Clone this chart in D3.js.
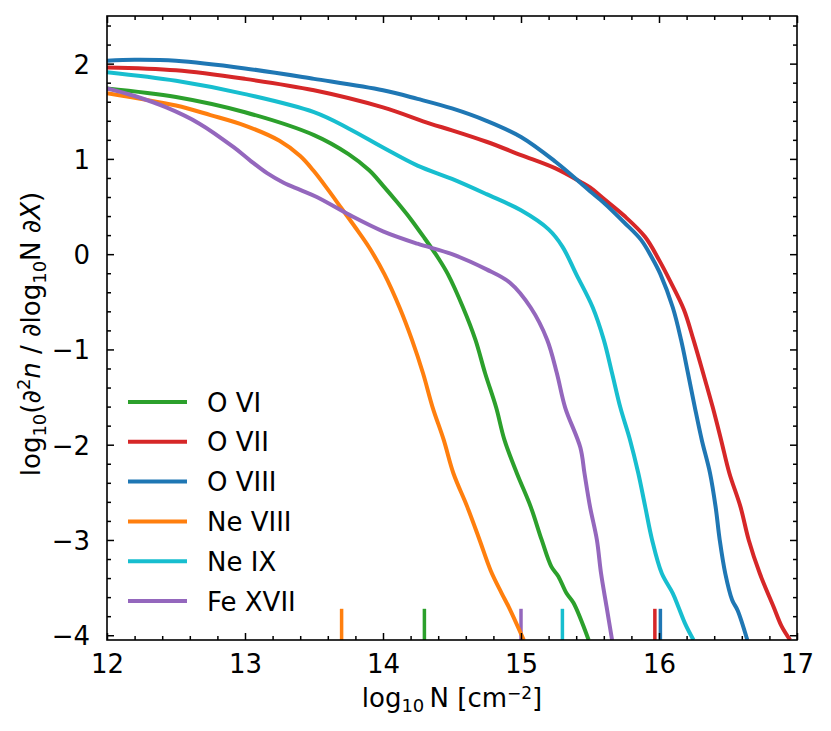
<!DOCTYPE html>
<html><head><meta charset="utf-8">
<script src="https://cdn.jsdelivr.net/npm/d3@7"></script>
<style>
html,body{margin:0;padding:0;background:#fff;}
text{font-family:"DejaVu Sans",sans-serif;fill:#000;}
</style></head>
<body><svg id="chart" width="831" height="731"></svg>
<script>
// ---- data ----
const seriesNames = ["O VI","O VII","O VIII","Ne VIII","Ne IX","Fe XVII"];
const seriesColors = ["#2ca02c","#d62728","#1f77b4","#ff7f0e","#17becf","#9467bd"];
const oVI = [[12,1.74],[12.5,1.65],[13,1.49],[13.5,1.25],[13.75,1.05],[13.9,0.88],[14.0,0.72],[14.1,0.55],[14.2,0.37],[14.3,0.17],[14.4,-0.04],[14.47,-0.21],[14.58,-0.56],[14.67,-0.90],[14.74,-1.25],[14.82,-1.61],[14.88,-1.95],[14.97,-2.30],[15.07,-2.65],[15.15,-3.00],[15.22,-3.28],[15.27,-3.38],[15.33,-3.56],[15.38,-3.66],[15.49,-4.05]];
const oVII = [[12,1.96],[12.5,1.93],[13,1.84],[13.5,1.72],[14,1.54],[14.34,1.37],[14.5,1.30],[14.75,1.18],[15,1.04],[15.25,0.90],[15.43,0.76],[15.5,0.70],[15.6,0.58],[15.75,0.40],[15.9,0.18],[16.0,-0.06],[16.08,-0.28],[16.18,-0.58],[16.25,-0.90],[16.32,-1.25],[16.39,-1.61],[16.45,-1.95],[16.51,-2.30],[16.59,-2.65],[16.65,-3.00],[16.73,-3.35],[16.83,-3.70],[16.89,-3.91],[16.95,-4.05]];
const oVIII = [[12,2.03],[12.2,2.04],[12.5,2.03],[13,1.95],[13.5,1.84],[14,1.72],[14.25,1.63],[14.5,1.53],[14.75,1.40],[15,1.23],[15.25,0.97],[15.43,0.75],[15.5,0.66],[15.6,0.54],[15.75,0.33],[15.87,0.15],[15.95,-0.04],[16.01,-0.21],[16.10,-0.56],[16.16,-0.90],[16.21,-1.25],[16.26,-1.61],[16.31,-1.95],[16.37,-2.30],[16.41,-2.65],[16.44,-3.00],[16.48,-3.35],[16.53,-3.63],[16.57,-3.74],[16.64,-4.05]];
const neVIII = [[12,1.69],[12.5,1.56],[12.75,1.46],[13,1.35],[13.25,1.19],[13.4,1.03],[13.5,0.87],[13.6,0.68],[13.7,0.48],[13.8,0.28],[13.9,0.07],[14.01,-0.21],[14.12,-0.56],[14.21,-0.90],[14.29,-1.25],[14.36,-1.61],[14.44,-1.95],[14.51,-2.30],[14.61,-2.65],[14.70,-3.00],[14.78,-3.32],[14.86,-3.56],[14.91,-3.70],[15.02,-4.05]];
const neIX = [[12,1.91],[12.5,1.82],[13,1.68],[13.5,1.49],[13.75,1.32],[14,1.12],[14.25,0.93],[14.5,0.79],[14.75,0.63],[15,0.46],[15.2,0.26],[15.3,0.08],[15.4,-0.21],[15.52,-0.56],[15.60,-0.90],[15.66,-1.25],[15.72,-1.61],[15.79,-1.95],[15.85,-2.30],[15.90,-2.65],[15.95,-3.00],[16.02,-3.35],[16.10,-3.56],[16.14,-3.70],[16.19,-3.88],[16.25,-4.05]];
const feXVII = [[12,1.74],[12.2,1.66],[12.43,1.54],[12.67,1.37],[12.92,1.12],[13.04,0.98],[13.16,0.85],[13.28,0.75],[13.4,0.675],[13.52,0.60],[13.76,0.41],[14.0,0.24],[14.25,0.11],[14.5,0.0],[14.75,-0.16],[14.92,-0.30],[15.07,-0.56],[15.19,-0.90],[15.26,-1.25],[15.32,-1.61],[15.43,-2.03],[15.46,-2.30],[15.50,-2.65],[15.55,-3.00],[15.58,-3.35],[15.62,-3.70],[15.66,-4.05]];
const markerX = [14.3,15.97,16.01,13.7,15.3,15.0];   // per series, same order as names
const xTicks = [12,13,14,15,16,17];
const yTicks = [-4,-3,-2,-1,0,1,2];
const allSeries = [oVI,oVII,oVIII,neVIII,neIX,feXVII];

// ---- layout ----
const svg = d3.select("#chart");
const L=107,R=797,T=16,B=640;
const x = d3.scaleLinear().domain([12,17]).range([L,R]);
const y = d3.scaleLinear().domain([-4.05,2.5]).range([B,T]);
const FS = 26;

svg.append("defs").append("clipPath").attr("id","clip")
  .append("rect").attr("x",L).attr("y",T).attr("width",R-L).attr("height",B-T);

const plot = svg.append("g").attr("clip-path","url(#clip)");
const line = d3.line().x(d=>x(d[0])).y(d=>y(d[1])).curve(d3.curveCatmullRom.alpha(0.5));

// markers
markerX.forEach((mx,i)=>{
  plot.append("line").attr("x1",x(mx)).attr("x2",x(mx))
    .attr("y1",y(-4.05)).attr("y2",y(-4.05+0.05*6.55))
    .attr("stroke",seriesColors[i]).attr("stroke-width",3.5);
});
allSeries.forEach((s,i)=>{
  plot.append("path").datum(s).attr("d",line).attr("fill","none")
    .attr("stroke",seriesColors[i]).attr("stroke-width",4)
    .attr("stroke-linejoin","round").attr("stroke-linecap","butt");
});

// axes with inward ticks
function mkAxis(axisFn, scale, ticks, minor, tr, showLabels){
  const g = svg.append("g").attr("transform",tr);
  const minorTicks = d3.range(minor[0],minor[1]+1e-9,0.2).filter(v=>Math.abs(v-Math.round(v))>1e-6);
  g.call(axisFn(scale).tickValues(minorTicks).tickSize(-4).tickFormat(""));
  const g2 = svg.append("g").attr("transform",tr);
  g2.call(axisFn(scale).tickValues(ticks).tickSize(-7).tickPadding(showLabels?17:0)
     .tickFormat(showLabels? (d=>d<0?"\u2212"+Math.abs(d):String(d)) : ""));
  [g,g2].forEach(gg=>{
    gg.select(".domain").remove();
    gg.selectAll(".tick line").attr("stroke","#000").attr("stroke-width",1.5);
    gg.selectAll("text").style("font-size",FS+"px").style("font-family","DejaVu Sans").attr("fill","#000");
  });
  return g2;
}
const xAx = mkAxis(d3.axisBottom, x, xTicks, [12,17], `translate(0,${B})`, true);
xAx.selectAll("text").attr("dy","0.6em");
mkAxis(d3.axisTop, x, xTicks, [12,17], `translate(0,${T})`, false);
const yl = mkAxis(d3.axisLeft, y, yTicks, [-4,2.4], `translate(${L},0)`, true);
mkAxis(d3.axisRight, y, yTicks, [-4,2.4], `translate(${R},0)`, false);
yl.selectAll("text").attr("dy","0.36em");

svg.append("rect").attr("x",L).attr("y",T).attr("width",R-L).attr("height",B-T)
  .attr("fill","none").attr("stroke","#000").attr("stroke-width",1.6);

// x label
const xl = svg.append("text").attr("x",(L+R)/2).attr("y",707).attr("text-anchor","middle").style("font-size",FS+"px");
xl.append("tspan").text("log");
xl.append("tspan").text("10").style("font-size","18px").attr("dy",5);
xl.append("tspan").text("\u2009N [cm").attr("dy",-5);
xl.append("tspan").text("\u22122").style("font-size","17px").attr("dy",-8);
xl.append("tspan").text("]").attr("dy",8);

// y label
const ylab = svg.append("text").attr("transform",`translate(40,${(T+B)/2+6}) rotate(-90)`)
  .attr("text-anchor","middle").style("font-size",FS+"px");
ylab.append("tspan").text("log");
ylab.append("tspan").text("10").style("font-size","18px").attr("dy",6);
ylab.append("tspan").text("(\u2202").attr("dy",-6);
ylab.append("tspan").text("2").style("font-size","18px").attr("dy",-10);
ylab.append("tspan").text("n").style("font-style","italic").attr("dy",10);
ylab.append("tspan").text(" / \u2202log");
ylab.append("tspan").text("10").style("font-size","18px").attr("dy",6);
ylab.append("tspan").text("N \u2202").attr("dy",-6);
ylab.append("tspan").text("X").style("font-style","italic");
ylab.append("tspan").text(")");

// legend
const legY0 = 402, legDY = 39.8;
seriesNames.forEach((n,i)=>{
  const yy = legY0 + i*legDY;
  svg.append("line").attr("x1",128).attr("x2",187).attr("y1",yy).attr("y2",yy)
    .attr("stroke",seriesColors[i]).attr("stroke-width",4);
  svg.append("text").attr("x",207).attr("y",yy+9.5).style("font-size",FS+"px").text(n);
});
</script></body></html>
